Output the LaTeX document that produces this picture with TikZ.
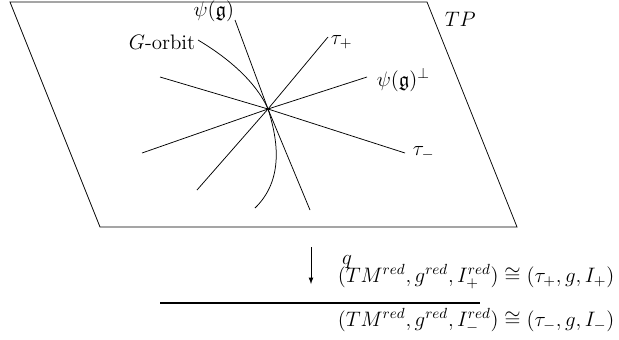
\RequirePackage{fix-cm}
\documentclass[tikz,border=0pt]{standalone}
\usepackage{amsmath,amssymb}
\usepackage{tikz}

\begin{document}
\begin{tikzpicture}[x=0.0235cm, y=-0.0235cm, line width=0.5pt,
    lbl/.style={inner sep=1pt, font=\fontsize{14}{16}\selectfont}]
    \useasboundingbox (0,0) rectangle (619,339);
    % the plane TP
    \draw (10,2) -- (427,2) -- (517,227) -- (100,227) -- cycle;
    \node[lbl, anchor=west] (tp) at (443,19) {$TP$};
    % lines through the point
    \coordinate (c) at (268,109);
    \coordinate (tpA) at (197,190);
    \coordinate (tpB) at (328,37);
    \coordinate (perpA) at (142,153);
    \coordinate (perpB) at (367,77);
    \coordinate (tmA) at (160,77);
    \coordinate (tmB) at (405,153);
    \coordinate (psiA) at (235,20);
    \coordinate (psiB) at (310,210);
    \draw (tpA) -- (c) -- (tpB);
    \draw (perpA) -- (c) -- (perpB);
    \draw (tmA) -- (c) -- (tmB);
    \draw (psiA) -- (c) -- (psiB);
    \node[lbl, anchor=west] (taup) at (329,42) {$\tau_+$};
    \node[lbl, anchor=west] (psip) at (375,80) {$\psi(\mathfrak{g})^\perp$};
    \node[lbl, anchor=west] (taum) at (411,153) {$\tau_-$};
    \node[lbl, anchor=south east] (psi) at (236,24) {$\psi(\mathfrak{g})$};
    % the orbit
    \coordinate (orbA) at (198,40);
    \coordinate (orbB) at (255,208);
    \draw (orbA) .. controls (245,68) and (262,95) .. (c)
          .. controls (278,140) and (284,180) .. (orbB);
    \node[lbl, anchor=east] (orb) at (197,42) {$G$-orbit};
    % the quotient
    \coordinate (qA) at (311,247);
    \coordinate (qB) at (311,284);
    \draw[-latex] (qA) -- (qB);
    \node[lbl] (q) at (347,262) {$q$};
    \coordinate (barA) at (160,303);
    \coordinate (barB) at (480,303);
    \draw[line width=0.8pt] (barA) -- (barB);
    \node[lbl, anchor=base west] (redp) at (336,282)
      {$(TM^{red},g^{red},I_+^{red})\cong(\tau_+,g,I_+)$};
    \node[lbl, anchor=base west] (redm) at (336,326)
      {$(TM^{red},g^{red},I_-^{red})\cong(\tau_-,g,I_-)$};
\end{tikzpicture}
\end{document}
